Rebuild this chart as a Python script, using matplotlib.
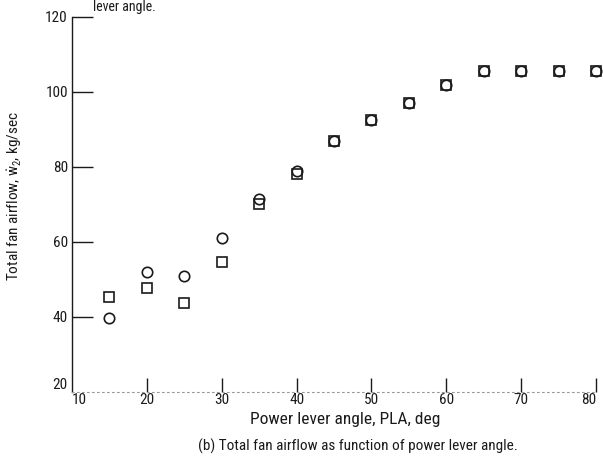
import numpy as np
import matplotlib
matplotlib.use("Agg")
import matplotlib.pyplot as plt
from matplotlib import font_manager

# Power lever angle, deg
pla_circle = [15, 20, 25, 30, 35, 40, 45, 50, 55, 60, 65, 70, 75, 80]
airflow_circle = [39.8, 51.9, 50.9, 61.0, 71.3, 79.0, 86.9, 92.5, 96.9, 101.8, 105.6, 105.6, 105.6, 105.6]

pla_square = [15, 20, 25, 30, 35, 40, 45, 50, 55, 60, 65, 70, 75, 80]
airflow_square = [45.2, 47.6, 43.6, 54.7, 70.1, 78.1, 86.9, 92.5, 96.9, 101.8, 105.6, 105.6, 105.6, 105.6]

x_ticks = [10, 20, 30, 40, 50, 60, 70, 80]
y_ticks = [20, 40, 60, 80, 100, 120]

# prefer a condensed face if one is installed
fonts = font_manager.fontManager.ttflist
narrow = None
for f in fonts:
    if f.name in ("Liberation Sans Narrow", "Roboto Condensed", "Open Sans Condensed"):
        narrow = f.name
        break
if narrow is None:
    narrow = "DejaVu Sans"
    plt.rcParams["font.stretch"] = "condensed"
plt.rcParams["font.family"] = [narrow, "DejaVu Sans"]
plt.rcParams["mathtext.fontset"] = "custom"
plt.rcParams["mathtext.rm"] = narrow
plt.rcParams["mathtext.it"] = narrow

ink = "#1a1a1a"

fig = plt.figure(figsize=(6.03, 4.62), dpi=100)
ax = fig.add_axes([72 / 603, 70 / 462, 524 / 603, 375.3 / 462])

ax.plot(pla_circle, airflow_circle, linestyle="none", marker="o", markersize=7.5,
        markerfacecolor="none", markeredgecolor=ink, markeredgewidth=1.2, clip_on=False)
ax.plot(pla_square, airflow_square, linestyle="none", marker="s", markersize=7,
        markerfacecolor="none", markeredgecolor=ink, markeredgewidth=1.2, clip_on=False)

ax.set_xlim(10, 80)
ax.set_ylim(20, 120)
ax.set_xticks(x_ticks)
ax.set_yticks(y_ticks)
ax.set_xticklabels([str(v) for v in x_ticks])
ax.set_yticklabels([str(v) for v in y_ticks])

# corner labels: keep "10" and "20" apart, pull "80" inside the figure
xlabels = ax.get_xticklabels()
xlabels[0].set_ha("left")
xlabels[-1].set_ha("right")
ax.get_yticklabels()[0].set_va("bottom")

ax.tick_params(axis="y", direction="in", length=15, width=1.0, color=ink,
               labelsize=11, labelcolor=ink, pad=3)
ax.tick_params(axis="x", direction="in", length=10, width=1.0, color=ink,
               labelsize=11, labelcolor=ink, pad=1)
# no tick marks where the two axes meet
ax.yaxis.get_major_ticks()[0].tick1line.set_visible(False)
ax.xaxis.get_major_ticks()[0].tick1line.set_visible(False)

for side in ("top", "right"):
    ax.spines[side].set_visible(False)
ax.spines["left"].set_color(ink)
ax.spines["left"].set_linewidth(1.0)
ax.spines["bottom"].set_color("#9a9a9a")
ax.spines["bottom"].set_linewidth(0.8)
ax.spines["bottom"].set_linestyle((0, (1.5, 3)))

ax.set_xlabel("Power lever angle, PLA, deg", fontsize=12.5, color=ink)
ax.xaxis.set_label_coords((345 - 72) / 524, (392 - 412) / 375.3)
ax.set_ylabel(r"Total fan airflow, $\mathrm{\dot{w}_2}$, kg/sec", fontsize=11, color=ink)
ax.yaxis.set_label_coords((24 - 72) / 524, (392 - 196) / 375.3)

fig.text(358 / 603, 1 - 446 / 462, "(b) Total fan airflow as function of power lever angle.",
         ha="center", va="center", fontsize=11, color=ink)
fig.text(93 / 603, 1 - 0.5 / 462, "lever angle.", ha="left", va="top",
         fontsize=10, color=ink)

fig.savefig("out.png", dpi=100, facecolor="white")
